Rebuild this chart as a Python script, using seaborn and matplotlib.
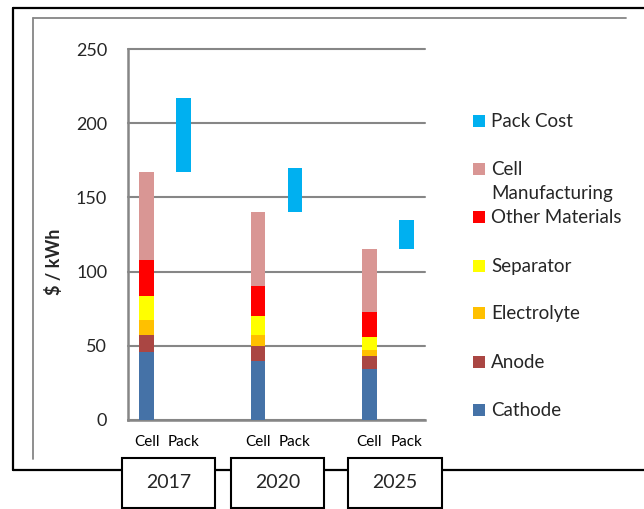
import matplotlib
matplotlib.use("Agg")
import matplotlib.pyplot as plt
from matplotlib.patches import Rectangle
from matplotlib.lines import Line2D
import seaborn as sns

sns.set_theme(style="white")
plt.rcParams["font.family"] = ["Lato", "DejaVu Sans"]

# Cost breakdown per year ($/kWh)
years = ["2017", "2020", "2025"]
cathode = [46, 40, 34.5]
anode = [11.5, 10, 8.5]
electrolyte = [10, 7.5, 4.5]
separator = [16, 12.5, 8.5]
other_materials = [24, 20, 16.5]
cell_manufacturing = [59.5, 50, 42.5]
pack_cost = [50, 30, 20]

slots = ["2017 Cell", "2017 Pack", "gap1",
         "2020 Cell", "2020 Pack", "gap2",
         "2025 Cell", "2025 Pack"]
slot_labels = ["Cell", "Pack", "", "Cell", "Pack", "", "Cell", "Pack"]
cell_keys = [f"{y} Cell" for y in years]
pack_keys = [f"{y} Pack" for y in years]

components = [
    ("Cathode", cathode, "#4572A7"),
    ("Anode", anode, "#AA4643"),
    ("Electrolyte", electrolyte, "#FFC000"),
    ("Separator", separator, "#FFFF00"),
    ("Other Materials", other_materials, "#FF0000"),
    ("Cell\nManufacturing", cell_manufacturing, "#D99694"),
]
pack_color = "#00B0F0"

W, H = 644, 509
fig = plt.figure(figsize=(W / 100, H / 100), dpi=100)
fig.patch.set_facecolor("white")

# decoration layer in pixel coordinates
deco = fig.add_axes([0, 0, 1, 1])
deco.set_xlim(0, W)
deco.set_ylim(H, 0)
deco.set_axis_off()

x0, x1, ytop, y0 = 128, 425, 49, 420
ax = fig.add_axes([x0 / W, (H - y0) / H, (x1 - x0) / W, (y0 - ytop) / H])
ax.set_facecolor("none")

# stacked cell bars
base = [0.0] * len(years)
for name, vals, col in components:
    sns.barplot(x=cell_keys, y=vals, order=slots, color=col, saturation=1,
                width=0.4, bottom=base, ax=ax, linewidth=0, zorder=3)
    base = [b + v for b, v in zip(base, vals)]

# floating pack cost bars above the cell total
sns.barplot(x=pack_keys, y=pack_cost, order=slots, color=pack_color,
            saturation=1, width=0.4, bottom=base, ax=ax, linewidth=0, zorder=3)

ax.set_xlim(-0.5, len(slots) - 0.5)
ax.set_ylim(0, 250)
ax.set_yticks(range(0, 251, 50))
ax.set_xticks(range(len(slots)))
ax.set_xticklabels(slot_labels, fontsize=11)
ax.set_xticks([i - 0.5 for i in range(len(slots) + 1)], minor=True)
ax.tick_params(axis="x", which="major", length=0, pad=11, colors="black")
ax.tick_params(axis="x", which="minor", length=6, width=1.5, color="#868686",
               direction="out")
ax.tick_params(axis="y", length=6, width=1.5, color="#868686", pad=9,
               labelsize=13, direction="out")
ax.set_xlabel("")
ax.grid(axis="y", color="#868686", linewidth=1.5, zorder=0)
ax.set_axisbelow(True)
for gl in ax.get_ygridlines():
    gl.set_clip_on(False)
for side in ["top", "right"]:
    ax.spines[side].set_visible(False)
for side in ["left", "bottom"]:
    ax.spines[side].set_color("#868686")
    ax.spines[side].set_linewidth(1.8)

ax.set_ylabel("$ / kWh", fontsize=13, fontweight="bold")
ax.yaxis.label.set_va("center")
ax.yaxis.set_label_coords((54 - x0) / (x1 - x0), (y0 - 262) / (y0 - ytop))

# outer frames
deco.add_line(Line2D([13, W], [7.5, 7.5], color="black", lw=1.6))
deco.add_line(Line2D([13, 13], [7.5, 470], color="black", lw=1.6))
deco.add_line(Line2D([13, W], [470, 470], color="black", lw=1.6))
deco.add_line(Line2D([33, 626], [18, 18], color="#868686", lw=1.3))
deco.add_line(Line2D([33, 33], [18, 459], color="#868686", lw=1.3))

# year boxes
year_boxes = [(122, 215), (231, 324), (348, 442)]
for (bx0, bx1), yr in zip(year_boxes, years):
    deco.add_patch(Rectangle((bx0, 458), bx1 - bx0, 50, facecolor="white",
                             edgecolor="black", lw=1.5, zorder=5))
    deco.text((bx0 + bx1) / 2, 483, yr, ha="center", va="center",
              fontsize=14, zorder=6)

# legend
legend_items = [("Pack Cost", pack_color, 121)]
legend_y = [410, 362, 313, 266, 217, 169]
for (name, _, col), ly in zip(components, legend_y):
    legend_items.append((name, col, ly))
for name, col, ly in legend_items:
    deco.add_patch(Rectangle((473, ly - 6), 12, 12, facecolor=col,
                             edgecolor="none"))
    deco.text(491, ly - 8, name, ha="left", va="top", fontsize=13.5,
              linespacing=1.5)

fig.savefig("out.png", dpi=100)
